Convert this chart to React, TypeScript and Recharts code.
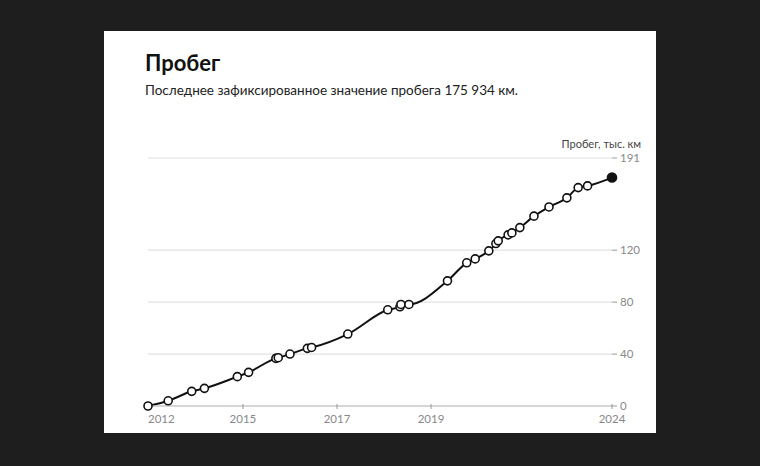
import { CartesianGrid, Line, LineChart, XAxis, YAxis } from "recharts";

// decimal years of each recorded reading
const dates = [
  2012.98, 2013.41, 2013.91, 2014.18, 2014.88, 2015.12, 2015.7, 2015.75, 2016.0, 2016.37, 2016.46,
  2017.23, 2018.08, 2018.34, 2018.36, 2018.53, 2019.35, 2019.76, 2019.94, 2020.23, 2020.38, 2020.43,
  2020.64, 2020.72, 2020.89, 2021.19, 2021.51, 2021.89, 2022.13, 2022.33, 2022.85,
];

// mileage, thousand km
const mileage = [
  0, 4, 11.3, 13.6, 22.6, 25.9, 36.7, 37.2, 40, 44.4, 45.1, 55.4, 74.1, 76.4, 78.2, 78.2, 96.4, 110.3,
  113.3, 119.5, 125.1, 127.2, 131.8, 133.3, 137.4, 146.2, 153.3, 160.3, 168.2, 169.5, 175.934,
];

const xTickValues = [2012.98, 2015, 2017, 2019, 2022.85];
const xTickLabels = ["2012", "2015", "2017", "2019", "2024"];
const yTicks = [0, 40, 80, 120, 191];

const data = dates.map((d, i) => ({ date: d, km: mileage[i] }));

const FONT = "Lato, 'Noto Sans', sans-serif";

const XTick = (props: any) => {
  const { x, y, index } = props;
  const first = index === 0;
  return (
    <g>
      {!first && <line x1={x} x2={x} y1={y - 2} y2={y + 3} stroke="#999" strokeWidth={1} />}
      <text
        x={x}
        y={y + 17}
        textAnchor={first ? "start" : "middle"}
        fill="#888"
        fontSize={11.5}
        fontFamily={FONT}
      >
        {xTickLabels[index]}
      </text>
    </g>
  );
};

const Dot = (props: any) => {
  const { cx, cy, index } = props;
  const last = index === data.length - 1;
  return (
    <circle
      key={"dot-" + index}
      cx={cx}
      cy={cy}
      r={last ? 4.5 : 4}
      fill={last ? "#111" : "#fff"}
      stroke="#111"
      strokeWidth={1.6}
    />
  );
};

export default function App() {
  return (
    <div
      style={{
        position: "absolute",
        left: 0,
        top: 0,
        width: 760,
        height: 466,
        background: "#1e1e1e",
        fontFamily: FONT,
      }}
    >
      <div
        style={{
          position: "absolute",
          left: 104,
          top: 31,
          width: 552,
          height: 402,
          background: "#fff",
        }}
      />
      <div
        style={{
          position: "absolute",
          left: 145,
          top: 49,
          fontSize: 22,
          fontWeight: 700,
          color: "#111",
        }}
      >
        Пробег
      </div>
      <div
        style={{
          position: "absolute",
          left: 145,
          top: 82,
          fontSize: 13.5,
          color: "#222",
          whiteSpace: "nowrap",
        }}
      >
        Последнее зафиксированное значение пробега 175 934 км.
      </div>
      <div
        style={{
          position: "absolute",
          right: 760 - 641,
          top: 137,
          fontSize: 11,
          color: "#444",
          whiteSpace: "nowrap",
        }}
      >
        Пробег, тыс. км
      </div>
      <div style={{ position: "absolute", left: 104, top: 130 }}>
        <LineChart
          width={552}
          height={303}
          data={data}
          margin={{ top: 28, right: 0, bottom: 0, left: 44 }}
        >
          <CartesianGrid vertical={false} stroke="#e2e2e2" strokeWidth={1.2} />
          <XAxis
            dataKey="date"
            type="number"
            domain={["dataMin", "dataMax"]}
            ticks={xTickValues}
            tick={<XTick />}
            tickLine={false}
            tickSize={0}
            tickMargin={0}
            axisLine={{ stroke: "#bbb", strokeWidth: 1.2 }}
            height={27}
            interval={0}
          />
          <YAxis
            orientation="right"
            domain={[0, 191]}
            ticks={yTicks}
            axisLine={false}
            tickLine={{ stroke: "#999" }}
            tickSize={5}
            tickMargin={3}
            tick={{ fill: "#888", fontSize: 11.5, fontFamily: FONT }}
            width={44}
            interval={0}
          />
          <Line
            type="monotone"
            dataKey="km"
            stroke="#111"
            strokeWidth={2}
            dot={Dot}
            activeDot={false}
            isAnimationActive={false}
          />
        </LineChart>
      </div>
    </div>
  );
}
